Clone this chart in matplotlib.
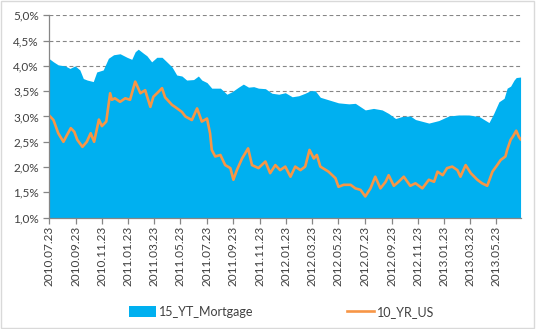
#Imports
import matplotlib
matplotlib.use("Agg")
import matplotlib.pyplot as plt
import matplotlib.dates as mdates
from matplotlib.ticker import FuncFormatter
from matplotlib.patches import Rectangle
import pandas as pd

#15 year mortgage rate (top of the blue area)
mortgage_dates = ["2010-07-23", "2010-08-03", "2010-08-14", "2010-08-30", "2010-09-10",
                  "2010-09-22", "2010-10-03", "2010-10-11", "2010-10-20", "2010-11-03",
                  "2010-11-11", "2010-11-26", "2010-12-08", "2010-12-20", "2011-01-04",
                  "2011-01-20", "2011-01-31", "2011-02-08", "2011-02-15", "2011-02-27",
                  "2011-03-07", "2011-03-18", "2011-03-30", "2011-04-11", "2011-04-22",
                  "2011-05-04", "2011-05-15", "2011-05-27", "2011-06-07", "2011-06-23",
                  "2011-07-04", "2011-07-12", "2011-07-24", "2011-08-04", "2011-08-24",
                  "2011-09-08", "2011-09-20", "2011-10-05", "2011-10-16", "2011-10-28",
                  "2011-11-09", "2011-11-20", "2011-12-06", "2011-12-21", "2012-01-06",
                  "2012-01-21", "2012-02-06", "2012-02-21", "2012-03-07", "2012-03-19",
                  "2012-03-30", "2012-04-11", "2012-04-30", "2012-05-23", "2012-06-16",
                  "2012-07-01", "2012-07-24", "2012-08-12", "2012-09-01", "2012-09-16",
                  "2012-10-02", "2012-10-17", "2012-11-05", "2012-11-17", "2012-12-18",
                  "2013-01-10", "2013-02-02", "2013-02-25", "2013-03-20", "2013-04-13",
                  "2013-05-06", "2013-05-17", "2013-05-29", "2013-06-10", "2013-06-17",
                  "2013-06-25", "2013-07-03", "2013-07-08", "2013-07-18"]
mortgage_vals = [4.15, 4.08, 4.02, 4.00, 3.95,
                 4.00, 3.92, 3.75, 3.72, 3.69,
                 3.88, 3.92, 4.15, 4.22, 4.24,
                 4.17, 4.13, 4.28, 4.33, 4.25,
                 4.20, 4.08, 4.17, 4.17, 4.08,
                 3.98, 3.82, 3.80, 3.72, 3.73,
                 3.80, 3.72, 3.67, 3.56, 3.56,
                 3.44, 3.49, 3.58, 3.64, 3.58,
                 3.59, 3.56, 3.55, 3.46, 3.44,
                 3.47, 3.39, 3.41, 3.46, 3.51,
                 3.51, 3.38, 3.33, 3.27, 3.25,
                 3.26, 3.13, 3.16, 3.13, 3.06,
                 2.96, 3.00, 3.01, 2.94, 2.87,
                 2.92, 3.01, 3.03, 3.03, 3.00,
                 2.88, 3.06, 3.29, 3.36, 3.56,
                 3.60, 3.72, 3.77, 3.78]

#10 year US treasury yield (orange line)
us10_dates = ["2010-07-23", "2010-08-03", "2010-08-14", "2010-08-26", "2010-09-03",
              "2010-09-12", "2010-09-20", "2010-09-27", "2010-10-09", "2010-10-19",
              "2010-10-28", "2010-11-05", "2010-11-16", "2010-11-23", "2010-12-03",
              "2010-12-12", "2010-12-16", "2010-12-23", "2011-01-04", "2011-01-16",
              "2011-01-27", "2011-02-08", "2011-02-20", "2011-03-03", "2011-03-15",
              "2011-03-22", "2011-04-03", "2011-04-11", "2011-04-18", "2011-05-04",
              "2011-05-11", "2011-05-27", "2011-06-04", "2011-06-19", "2011-07-01",
              "2011-07-12", "2011-07-24", "2011-07-31", "2011-08-04", "2011-08-12",
              "2011-08-24", "2011-09-04", "2011-09-16", "2011-09-23", "2011-10-01",
              "2011-10-13", "2011-10-27", "2011-11-05", "2011-11-20", "2011-12-06",
              "2011-12-17", "2011-12-29", "2012-01-09", "2012-01-21", "2012-02-02",
              "2012-02-13", "2012-02-25", "2012-03-07", "2012-03-17", "2012-03-27",
              "2012-04-03", "2012-04-11", "2012-04-30", "2012-05-16", "2012-05-23",
              "2012-06-04", "2012-06-20", "2012-07-01", "2012-07-13", "2012-07-24",
              "2012-08-05", "2012-08-16", "2012-08-28", "2012-09-09", "2012-09-16",
              "2012-09-28", "2012-10-09", "2012-10-21", "2012-11-05", "2012-11-17",
              "2012-12-03", "2012-12-18", "2012-12-30", "2013-01-07", "2013-01-19",
              "2013-01-29", "2013-02-10", "2013-02-22", "2013-03-01", "2013-03-13",
              "2013-03-25", "2013-04-09", "2013-04-20", "2013-05-02", "2013-05-14",
              "2013-05-25", "2013-06-02", "2013-06-13", "2013-06-17", "2013-06-25",
              "2013-06-30", "2013-07-08", "2013-07-14", "2013-07-18"]
us10_vals = [3.03, 2.93, 2.67, 2.50, 2.63,
             2.77, 2.70, 2.54, 2.40, 2.50,
             2.67, 2.50, 2.94, 2.81, 2.90,
             3.46, 3.33, 3.36, 3.29, 3.36,
             3.33, 3.69, 3.46, 3.52, 3.19,
             3.39, 3.49, 3.56, 3.38, 3.23,
             3.19, 3.09, 3.00, 2.93, 3.16,
             2.90, 2.96, 2.67, 2.34, 2.21,
             2.24, 2.04, 1.98, 1.75, 1.94,
             2.17, 2.37, 2.04, 1.98, 2.11,
             1.88, 2.04, 1.94, 2.01, 1.81,
             2.01, 1.94, 2.01, 2.34, 2.17,
             2.24, 2.01, 1.91, 1.78, 1.61,
             1.65, 1.65, 1.58, 1.55, 1.42,
             1.58, 1.81, 1.58, 1.71, 1.84,
             1.63, 1.71, 1.81, 1.63, 1.68,
             1.58, 1.75, 1.71, 1.91, 1.84,
             1.98, 2.01, 1.94, 1.81, 2.04,
             1.88, 1.75, 1.68, 1.63, 1.91,
             2.04, 2.14, 2.21, 2.34, 2.54,
             2.60, 2.72, 2.60, 2.55]

#axis labels on the 23rd, every two months
tick_dates = pd.date_range("2010-07-01", "2013-05-01", freq="2MS") + pd.Timedelta(days=22)
y_ticks = [1.0, 1.5, 2.0, 2.5, 3.0, 3.5, 4.0, 4.5, 5.0]

plt.rcParams['font.family'] = ['Lato', 'DejaVu Sans']
grey = "#868686"

fig = plt.figure(figsize=(5.36, 3.29), dpi=100)
ax = fig.add_axes([0.0909, 0.3383, 0.972 - 0.0909, 0.9535 - 0.3383])

m_dates = pd.to_datetime(mortgage_dates)
u_dates = pd.to_datetime(us10_dates)

#blue area and orange line
ax.fill_between(m_dates, 0, mortgage_vals, color="#00B0F0", linewidth=0, zorder=2,
                label="15_YT_Mortgage")
ax.plot(u_dates, us10_vals, color="#F79646", linewidth=1.9, zorder=3, label="10_YR_US")

ax.set_ylim(1.0, 5.0)
ax.set_xlim(pd.Timestamp("2010-07-23"), pd.Timestamp("2013-07-19"))
ax.set_yticks(y_ticks)
ax.yaxis.set_major_formatter(FuncFormatter(lambda v, p: ("%.1f%%" % v).replace(".", ",")))
ax.set_xticks(tick_dates)
ax.xaxis.set_major_formatter(mdates.DateFormatter("%Y.%m.%d"))
for lbl in ax.get_xticklabels():
    lbl.set_rotation(90)

#dashed gridlines behind the data
ax.yaxis.grid(True, color=grey, linestyle=(0, (3.5, 2.5)), linewidth=0.8)
ax.set_axisbelow(True)

for s in ["top", "right"]:
    ax.spines[s].set_visible(False)
for s in ["left", "bottom"]:
    ax.spines[s].set_color(grey)
    ax.spines[s].set_linewidth(0.9)
    ax.spines[s].set_zorder(4)
ax.tick_params(axis="both", colors=grey, labelcolor="#404040", labelsize=8.5,
               length=4, width=0.9)
ax.tick_params(axis="x", pad=2)
ax.tick_params(axis="y", pad=3)

#legend under the chart
fig.legend(loc="center", bbox_to_anchor=(0.525, 0.053), ncol=2, frameon=False,
           fontsize=9, handlelength=2.2, handleheight=1.0, columnspacing=7.5,
           handletextpad=0.2, labelcolor="#404040")

#light frame around the whole chart
fig.patches.append(Rectangle((0.001, 0.002), 0.996, 0.995, transform=fig.transFigure,
                             fill=False, edgecolor="#D9D9D9", linewidth=1.0))

fig.savefig("out.png", dpi=100)
